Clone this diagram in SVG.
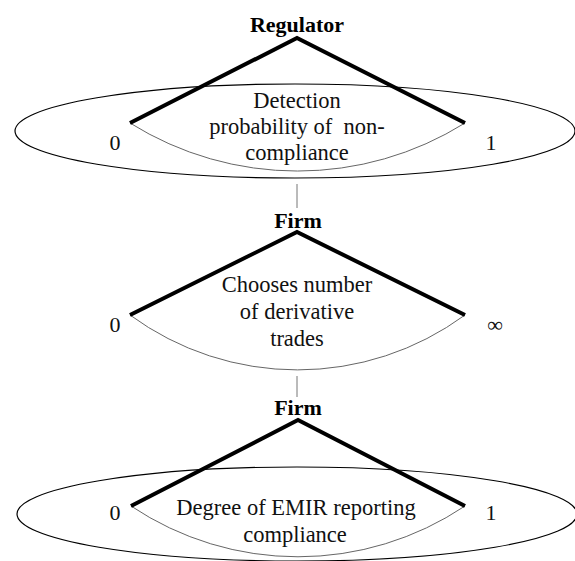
<svg xmlns="http://www.w3.org/2000/svg" width="575" height="561" viewBox="0 0 575 561">
<style>
  .bg{fill:#ffffff}
  .ell{fill:none;stroke:#000;stroke-width:1.2}
  .branch{fill:none;stroke:#000;stroke-width:4;stroke-linejoin:miter}
  .arc{fill:none;stroke:#666;stroke-width:1}
  .conn{fill:none;stroke:#777;stroke-width:1}
  .t{font-family:"Liberation Serif","Times New Roman",serif;font-size:22.5px;fill:#111;text-anchor:middle}
  .h{font-family:"Liberation Serif","Times New Roman",serif;font-size:22px;font-weight:bold;fill:#000;text-anchor:middle}
  .v{font-family:"Liberation Serif","Times New Roman",serif;font-size:22px;fill:#111;text-anchor:middle}
</style>
<rect class="bg" x="0" y="0" width="575" height="561"/>
<g id="connectors">
  <line class="conn" x1="297" y1="184" x2="297" y2="208"/>
  <line class="conn" x1="297" y1="376" x2="297" y2="397"/>
</g>
<g id="node-regulator">
  <ellipse class="ell" cx="295" cy="131" rx="280" ry="47"/>
  <path class="arc" d="M130,123 A316,316 0 0 0 465,123"/>
  <polyline class="branch" points="130,123 297,38 465,123"/>
  <text class="h" x="297" y="32">Regulator</text>
  <text class="t" x="297" y="108">Detection</text>
  <text class="t" x="297" y="134" xml:space="preserve">probability of  non-</text>
  <text class="t" x="297" y="160">compliance</text>
  <text class="v" x="115" y="150">0</text>
  <text class="v" x="491" y="150">1</text>
</g>
<g id="node-firm-trades">
  <path class="arc" d="M130,315 A283,283 0 0 0 465,315"/>
  <polyline class="branch" points="130,315 297,232 465,315"/>
  <text class="h" x="298" y="228">Firm</text>
  <text class="t" x="297" y="292">Chooses number</text>
  <text class="t" x="297" y="319">of derivative</text>
  <text class="t" x="297" y="346">trades</text>
  <text class="v" x="115" y="332">0</text>
  <text class="v" x="495" y="332">∞</text>
</g>
<g id="node-firm-compliance">
  <ellipse class="ell" cx="297" cy="514" rx="280" ry="47"/>
  <path class="arc" d="M131,506 A300,300 0 0 0 465,506"/>
  <polyline class="branch" points="131,506 298,420 465,506"/>
  <text class="h" x="298" y="415">Firm</text>
  <text class="t" x="296" y="515">Degree of EMIR reporting</text>
  <text class="t" x="295" y="542">compliance</text>
  <text class="v" x="115" y="520">0</text>
  <text class="v" x="491" y="520">1</text>
</g>
</svg>
